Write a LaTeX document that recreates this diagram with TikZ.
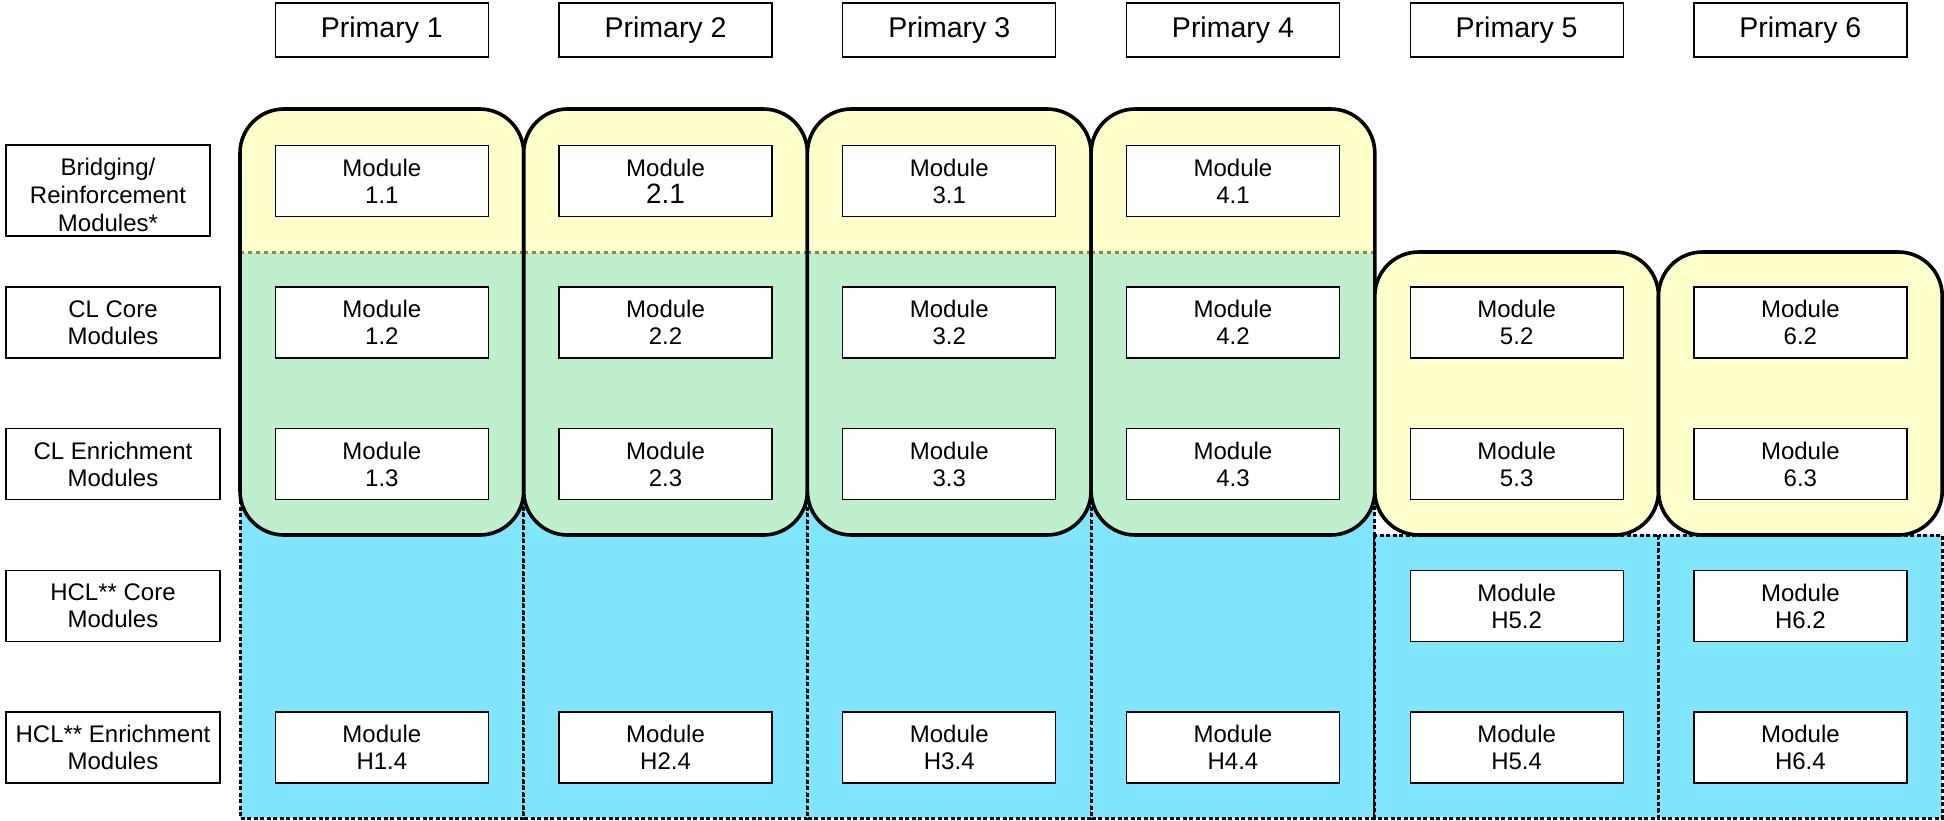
\documentclass[tikz,border=0pt]{standalone}
\usepackage{fontspec}
\setmainfont{Liberation Sans}
\definecolor{ylw}{HTML}{FFFFCC}
\definecolor{grn}{HTML}{BFF0CE}
\definecolor{blu}{HTML}{80E5FF}
\definecolor{olv}{HTML}{8A8650}
\begin{document}
\begin{tikzpicture}[x=1pt,y=-1pt,
  box/.style={draw, line width=1.3pt, fill=white, align=center, inner sep=0pt,
    minimum width=213pt, minimum height=71pt, font=\fontsize{24}{27}\selectfont},
  prim/.style={box, minimum height=54pt, font=\fontsize{28.5}{30}\selectfont},
  lbl/.style={box, minimum width=214pt},
  bluedot/.style={draw=black, line width=3pt, dash pattern=on 4pt off 2.5pt},
  divdot/.style={draw=olv, line width=3pt, dash pattern=on 4pt off 4pt},
  colframe/.style={draw=black, line width=3.6pt, rounded corners=44pt}]
\useasboundingbox (0,0) rectangle (1944,821);
\def\W{283.7}
% blue areas
\foreach \i in {0,...,3} {
  \pgfmathsetmacro\xl{240+\i*\W}
  \pgfmathsetmacro\xr{240+(\i+1)*\W}
  \fill[blu] (\xl,253) rectangle (\xr,818);
  \draw[bluedot] (\xl,253) rectangle (\xr,818);
}
\foreach \i in {4,5} {
  \pgfmathsetmacro\xl{240+\i*\W}
  \pgfmathsetmacro\xr{240+(\i+1)*\W}
  \fill[blu] (\xl,535) rectangle (\xr,818);
  \draw[bluedot] (\xl,535) rectangle (\xr,818);
}
% column frames 1-4
\foreach \i in {0,...,3} {
  \pgfmathsetmacro\xl{240+\i*\W}
  \pgfmathsetmacro\xr{240+(\i+1)*\W}
  \fill[grn, rounded corners=44pt] (\xl,109) rectangle (\xr,535);
  \begin{scope}
    \clip (\xl,100) rectangle (\xr,253);
    \fill[ylw, rounded corners=44pt] (\xl,109) rectangle (\xr,535);
  \end{scope}
  \draw[divdot] (\xl,253) -- (\xr,253);
  \draw[colframe] (\xl,109) rectangle (\xr,535);
}
% column frames 5-6
\foreach \i in {4,5} {
  \pgfmathsetmacro\xl{240+\i*\W}
  \pgfmathsetmacro\xr{240+(\i+1)*\W}
  \fill[ylw, rounded corners=44pt] (\xl,252) rectangle (\xr,535);
  \draw[colframe] (\xl,252) rectangle (\xr,535);
}
% primary headers
\foreach \i in {1,...,6} {
  \node[prim] (p\i) at ({240+(\i-0.5)*\W},30) {Primary \i};
}
% row labels
\node[box, minimum width=204pt, minimum height=91pt] (l1) at (108,190.5)
  {\raisebox{-4pt}[\height][\depth]{\parbox{200pt}{\centering\fontsize{24}{28}\selectfont Bridging/\\Reinforcement\\Modules*}}};
\node[lbl] (l2) at (113,322.5) {CL Core\\Modules};
\node[lbl] (l3) at (113,464) {CL Enrichment\\Modules};
\node[lbl] (l4) at (113,606) {HCL** Core\\Modules};
\node[lbl] (l5) at (113,747.5) {HCL** Enrichment\\Modules};
% modules, columns 1-4
\foreach \i in {1,...,4} {
  \pgfmathsetmacro\xc{240+(\i-0.5)*\W}
  \ifnum\i=2
    \node[box] (m\i a) at (\xc,181) {Module\\{\fontsize{28}{28}\selectfont 2.1}};
  \else
    \node[box] (m\i a) at (\xc,181) {Module\\\i.1};
  \fi
  \node[box] (m\i b) at (\xc,322.5) {Module\\\i.2};
  \node[box] (m\i c) at (\xc,464) {Module\\\i.3};
  \node[box] (m\i e) at (\xc,747.5) {Module\\H\i.4};
}
% modules, columns 5-6
\foreach \i in {5,6} {
  \pgfmathsetmacro\xc{240+(\i-0.5)*\W}
  \node[box] (m\i b) at (\xc,322.5) {Module\\\i.2};
  \node[box] (m\i c) at (\xc,464) {Module\\\i.3};
  \node[box] (m\i d) at (\xc,606) {Module\\H\i.2};
  \node[box] (m\i e) at (\xc,747.5) {Module\\H\i.4};
}
\end{tikzpicture}
\end{document}
